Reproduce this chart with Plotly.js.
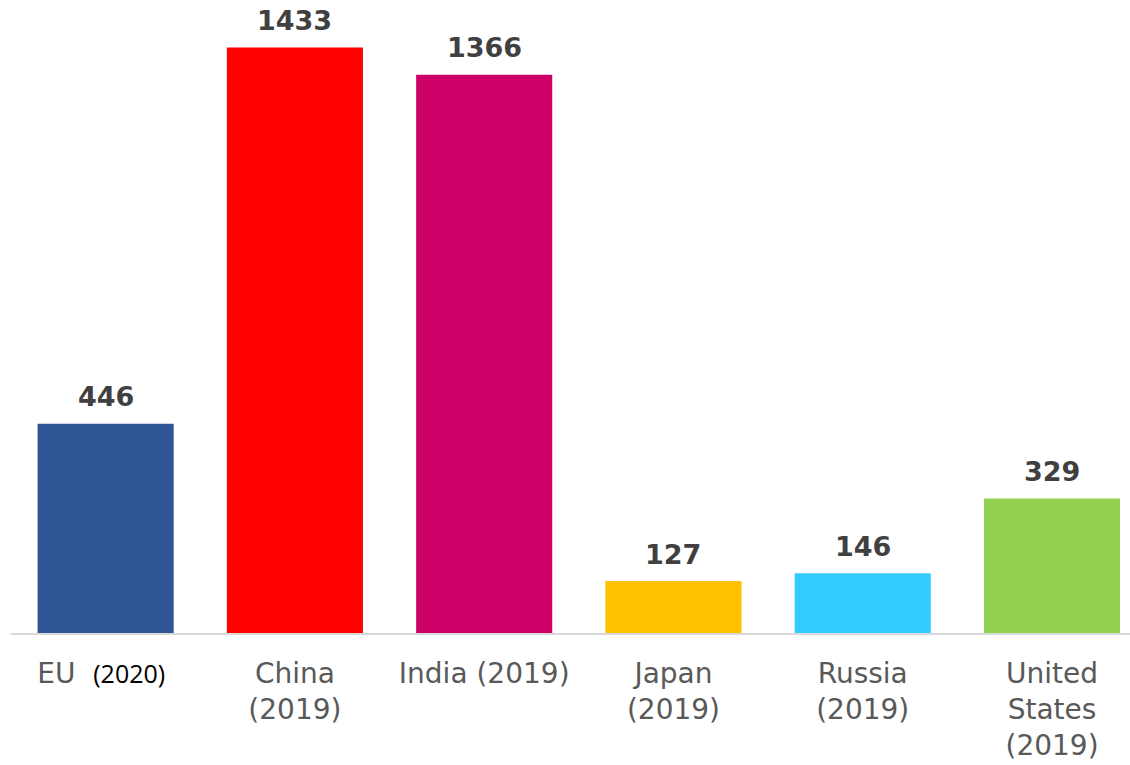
<!DOCTYPE html>
<html>
<head>
<meta charset="utf-8">
<script src="https://cdn.plot.ly/plotly-3.0.1.min.js"></script>
<style>html,body{margin:0;padding:0;background:#fff;}#chart{width:1130px;height:765px;}</style>
</head>
<body>
<div id="chart"></div>
<script>
const categories = ["EU", "China", "India", "Japan", "Russia", "United States"];
const tickLabels = [
  "EU\u00A0\u00A0<span style=\"font-family:'Open Sans';color:#000000;font-size:25px\">(2020)</span>\u00A0",
  "China<br>(2019)",
  "India\u00A0(2019)",
  "Japan<br>(2019)",
  "Russia<br>(2019)",
  "United<br>States<br>(2019)"
];
// bar heights as drawn in the picture
const barValues = [512, 1433, 1366, 127, 146, 329];
// value labels as printed above the bars
const valueLabels = ["446", "1433", "1366", "127", "146", "329"];
const barColors = ["#2F5597", "#FF0000", "#CC0066", "#FFC000", "#33CCFF", "#92D050"];

const trace = {
  type: "bar",
  x: categories,
  y: barValues,
  marker: {color: barColors},
  hoverinfo: "skip"
};

const annotations = categories.map((c, i) => ({
  x: c, y: barValues[i], xref: "x", yref: "y",
  text: valueLabels[i],
  showarrow: false,
  yanchor: "middle",
  yshift: 27,
  font: {family: "DejaVu Sans", size: 27, color: "#404040", weight: "bold"}
}));

const layout = {
  width: 1130, height: 765,
  margin: {l: 11, r: 0, t: 20, b: 132},
  paper_bgcolor: "#ffffff",
  plot_bgcolor: "#ffffff",
  showlegend: false,
  bargap: 0.281,
  xaxis: {
    type: "category",
    range: [-0.5, 5.412],
    tickvals: categories,
    ticktext: tickLabels,
    tickfont: {family: "DejaVu Sans", size: 28, color: "#595959"},
    showline: true, linecolor: "#D9D9D9", linewidth: 2,
    showgrid: false, zeroline: false, ticks: "",
    ticklabelstandoff: 14
  },
  yaxis: {
    range: [0, 1500],
    visible: false,
    showgrid: false, zeroline: false
  },
  annotations: annotations
};

Plotly.newPlot("chart", [trace], layout, {displayModeBar: false, staticPlot: true});
</script>
</body>
</html>
